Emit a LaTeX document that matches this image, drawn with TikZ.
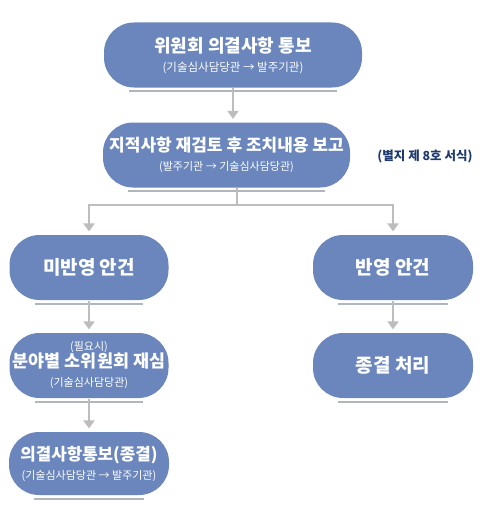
\documentclass[tikz,border=0pt]{standalone}
\usepackage{fontspec}
\setmainfont{Noto Sans CJK KR}
\usetikzlibrary{arrows.meta, positioning}
\definecolor{cbox}{HTML}{6A86BC}
\definecolor{cline}{HTML}{BDBDBD}
\definecolor{cnavy}{HTML}{1F3A6E}
\tikzset{
  every picture/.style={line width=1.2pt},
  box/.style={fill=cbox, rounded corners=30pt, align=center, text=white, font=\bfseries\fontsize{16}{19}\selectfont, inner sep=0pt, minimum height=65pt},
  arrow/.style={-{Triangle[length=8pt, width=11pt]}, draw=cline, line width=2pt, shorten >=3pt},
  shade/.style={draw=cline!85!cbox, line width=2pt},
  note/.style={font=\bfseries\fontsize{12.5}{14}\selectfont, text=cnavy},
}
\newcommand{\hdtxt}[1]{{\fontsize{19}{19}\selectfont #1}}
\newcommand{\subtxt}[1]{{\mdseries\fontsize{11}{12}\selectfont #1}}

\begin{document}
\begin{tikzpicture}[x=1pt, y=-1pt]
  \useasboundingbox (0,0) rectangle (485,511);
  % top of the flow
  \node[box, minimum width=258pt] (notice) at (233,55) {{\fontsize{18}{19}\selectfont 위원회 의결사항 통보}\\{\mdseries\fontsize{11.5}{12}\selectfont (기술심사담당관 → 발주기관)}};
  \node[box, minimum width=247pt] (report) at (226.5,155) {{\fontsize{17}{19}\selectfont 지적사항 재검토 후 조치내용 보고}\\\subtxt{(발주기관 → 기술심사담당관)}};
  \node[note] (form) at (425,156) {(별지 제 8호 서식)};
  % two branches
  \node[box, minimum width=159pt] (open) at (89,267.5) {\hdtxt{미반영 안건}};
  \node[box, minimum width=160pt] (done) at (393,267.5) {\hdtxt{반영 안건}};
  \node[box, minimum width=159pt] (review) at (89,365.5) {{\mdseries\fontsize{11}{12}\selectfont (필요시)}\\[-2pt]{\fontsize{17.4}{19}\selectfont 분야별 소위원회 재심}\\\subtxt{(기술심사담당관)}};
  \node[box, minimum width=160pt] (close) at (393,365.5) {\hdtxt{종결 처리}};
  \node[box, minimum width=160pt, minimum height=63pt] (final) at (89,463.5) {{\fontsize{16.8}{19}\selectfont 의결사항통보(종결)}\\\subtxt{(기술심사담당관 → 발주기관)}};
  % grey bars under the boxes
  \foreach \n in {notice,report,open,done,review,close,final}
    \draw[shade] ([xshift=26pt,yshift=-3pt]\n.south west) -- ([xshift=-26pt,yshift=-3pt]\n.south east);
  % connectors
  \draw[arrow] (notice.south) -- (notice.south |- report.north);
  \coordinate (split) at (237,205);
  \draw[draw=cline, line width=2pt] (report.south -| split) -- (split);
  \draw[arrow] (split) -| (open.north);
  \draw[arrow] (split) -| (done.north);
  \draw[arrow] (open.south) -- (review.north);
  \draw[arrow] (done.south) -- (close.north);
  \draw[arrow] (review.south) -- (final.north);
\end{tikzpicture}
\end{document}
